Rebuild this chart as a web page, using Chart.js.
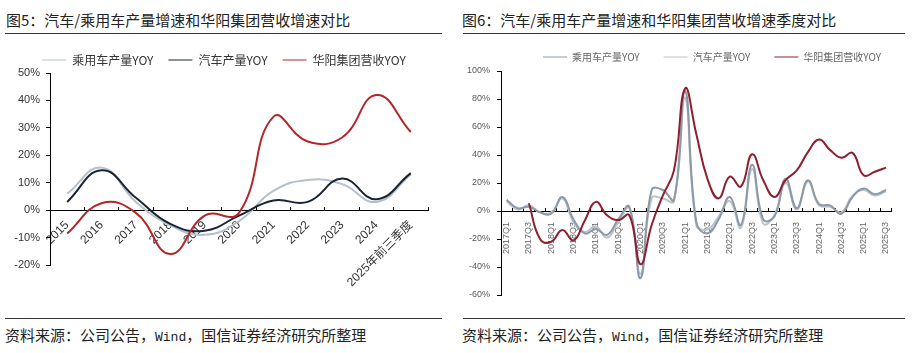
<!DOCTYPE html>
<html>
<head>
<meta charset="utf-8">
<script src="https://cdn.jsdelivr.net/npm/chart.js@4.4.1/dist/chart.umd.min.js"></script>
<style>
  body { margin: 0; background: #fff; width: 912px; height: 353px; position: relative; overflow: hidden;
         font-family: "Noto Sans CJK SC", sans-serif; color: #222; }
  .title { position: absolute; top: 10px; font-size: 15px; line-height: 20px; white-space: nowrap; }
  .rule { position: absolute; height: 0; border-top: 1px solid #333; }
  .box { position: absolute; top: 20px; height: 294px; }
  .src { position: absolute; top: 325px; font-size: 15px; line-height: 20px; white-space: nowrap; }
  .mono { font-family: "Liberation Mono", monospace; font-size: 13px; }
</style>
</head>
<body>
<div class="title" style="left:6px">图5：汽车/乘用车产量增速和华阳集团营收增速对比</div>
<div class="rule" style="left:5px;width:437px;top:33px"></div>
<div class="title" style="left:462px">图6：汽车/乘用车产量增速和华阳集团营收增速季度对比</div>
<div class="rule" style="left:463px;width:442px;top:33px"></div>

<div class="box" style="left:0;width:450px"><canvas id="c1" width="450" height="294"></canvas></div>
<div class="box" style="left:456px;width:456px"><canvas id="c2" width="456" height="294"></canvas></div>

<div class="rule" style="left:5px;width:437px;top:318px"></div>
<div class="rule" style="left:463px;width:442px;top:318px"></div>
<div class="src" style="left:5px">资料来源：公司公告，<span class="mono">Wind</span>，国信证券经济研究所整理</div>
<div class="src" style="left:462px">资料来源：公司公告，<span class="mono">Wind</span>，国信证券经济研究所整理</div>

<script>
// ---- 图5 annual data (%)
var years = ["2015", "2016", "2017", "2018", "2019", "2020", "2021", "2022", "2023", "2024", "2025年前三季度"];
var passengerYoy = [6, 15.5, 3, -5.5, -9, -4, 7, 11, 9.5, 3, 13];
var autoYoy = [3, 14.5, 4.5, -5, -7.5, -2, 3.5, 3, 11.5, 4, 13.5];
var huayangYoy = [-8.5, 2.5, -1, -16, -2, -1, 34, 25, 26.5, 42, 28.5];
var yTicks1 = [-20, 50, 10];

// ---- 图6 quarterly data (%)
var quarters = [
  "2017Q1", "2017Q2", "2017Q3", "2017Q4", "2018Q1", "2018Q2", "2018Q3", "2018Q4",
  "2019Q1", "2019Q2", "2019Q3", "2019Q4", "2020Q1", "2020Q2", "2020Q3", "2020Q4",
  "2021Q1", "2021Q2", "2021Q3", "2021Q4", "2022Q1", "2022Q2", "2022Q3", "2022Q4",
  "2023Q1", "2023Q2", "2023Q3", "2023Q4", "2024Q1", "2024Q2", "2024Q3", "2024Q4",
  "2025Q1", "2025Q2", "2025Q3"
];
var passengerQ = [8, 2, 3, -1, -2, 10, -6, -16, -13, -17, -6, 3, -48, 15, 15, 8, 86, -8, -16, -6, 10, -10, 33, -6, -4, 23, 2, 22, 5, 4, -2, 10, 16, 12, 15];
var autoQ = [7, 1, 4, -1, -1, 9, -8, -15, -11, -19, -8, 2, -45, 9, 9, 7, 81, -10, -13, -4, 7, -12, 30, -9, -3, 20, 1, 21, 4, 3, -1, 11, 15, 11, 14];
var huayangQ = [null, null, 5.5, -20, -22, -13.5, -21, -7, 6.5, -3, -6.5, -3, -38, -10, 11, 29, 87.5, 55, 23, 9, 24.5, 17.5, 40.5, 22, 10, 22, 29, 42, 51, 43.5, 38, 41.5, 25.5, 28, 31];
var yTicks2 = [-60, 100, 20];

Chart.defaults.font.family = "'Liberation Sans', 'Noto Sans CJK SC', sans-serif";

// fixed legend height (so the plot top lands right) and a sideways nudge
var legendBox = {
  id: "legendBox",
  beforeInit: function (chart, args, opts) {
    var fit = chart.legend.fit;
    chart.legend.fit = function () {
      fit.call(this);
      this.height = opts.height;
    };
  },
  afterLayout: function (chart, args, opts) {
    chart.legend.left += opts.shift;
    chart.legend.right += opts.shift;
  }
};

function byIndex(a, b) { return a.datasetIndex - b.datasetIndex; }

new Chart("c1", {
  type: "line",
  data: {
    labels: years,
    datasets: [
      { label: "乘用车产量YOY", data: passengerYoy, borderColor: "#b4c0cc", order: 2 },
      { label: "汽车产量YOY", data: autoYoy, borderColor: "#1b2433", order: 1 },
      { label: "华阳集团营收YOY", data: huayangYoy, borderColor: "#b3262a", order: 0 }
    ]
  },
  plugins: [legendBox],
  options: {
    responsive: false,
    animation: false,
    elements: { line: { borderWidth: 2, tension: 0.45 }, point: { radius: 0 } },
    layout: { padding: { left: 0, right: 22, top: 19, bottom: 49 } },
    plugins: {
      legendBox: { height: 34, shift: 10 },
      legend: {
        labels: { usePointStyle: true, pointStyle: "line", pointStyleWidth: 24, padding: 15, sort: byIndex,
                  color: "#333", font: { size: 12, family: "'Noto Sans CJK SC', sans-serif" } }
      },
      tooltip: { enabled: false }
    },
    scales: {
      x: {
        position: { y: 0 },
        offset: true,
        grid: { offset: true, drawOnChartArea: false, tickLength: -4, color: "#000" },
        border: { color: "#000" },
        ticks: { autoSkip: false, maxRotation: 45, minRotation: 45, padding: 12, color: "#333", font: { size: 12 } },
        afterFit: function (s) { s.height = 0; }
      },
      y: {
        min: yTicks1[0], max: yTicks1[1],
        ticks: { stepSize: yTicks1[2], padding: 6, color: "#333", font: { size: 11 },
                 callback: function (v) { return v + "%"; } },
        grid: { drawOnChartArea: false, tickLength: 4, color: "#000" },
        border: { color: "#000" },
        afterFit: function (s) { s.width = 50; }
      }
    }
  }
});

new Chart("c2", {
  type: "line",
  data: {
    labels: quarters,
    datasets: [
      { label: "乘用车产量YOY", data: passengerQ, borderColor: "#8c99a6", order: 1 },
      { label: "汽车产量YOY", data: autoQ, borderColor: "#bcc3c9", order: 2 },
      { label: "华阳集团营收YOY", data: huayangQ, borderColor: "#8e1f30", order: 0 }
    ]
  },
  plugins: [legendBox],
  options: {
    responsive: false,
    animation: false,
    elements: { line: { borderWidth: 2, tension: 0.45 }, point: { radius: 0 } },
    layout: { padding: { left: 0, right: 14, top: 8, bottom: 19 } },
    plugins: {
      legendBox: { height: 43, shift: 35 },
      legend: {
        labels: { usePointStyle: true, pointStyle: "line", pointStyleWidth: 24, padding: 24, sort: byIndex,
                  color: "#666", font: { size: 10, family: "'Noto Sans CJK SC', sans-serif" } }
      },
      tooltip: { enabled: false }
    },
    scales: {
      x: {
        position: { y: 0 },
        offset: true,
        grid: { offset: true, drawOnChartArea: false, tickLength: -4, color: "#000" },
        border: { color: "#000" },
        ticks: { autoSkip: false, maxRotation: 90, minRotation: 90, padding: 15, color: "#666", font: { size: 9 },
                 callback: function (v, i) { return i % 2 === 0 ? quarters[i] : ""; } },
        afterFit: function (s) { s.height = 0; }
      },
      y: {
        min: yTicks2[0], max: yTicks2[1],
        ticks: { stepSize: yTicks2[2], padding: 7, color: "#595959", font: { size: 9 },
                 callback: function (v) { return v + "%"; } },
        grid: { drawOnChartArea: false, tickLength: 4, color: "#000" },
        border: { color: "#000" },
        afterFit: function (s) { s.width = 45; }
      }
    }
  }
});
</script>
</body>
</html>
